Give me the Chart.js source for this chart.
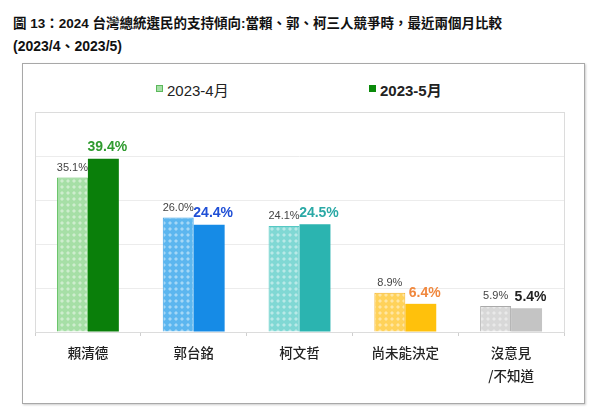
<!DOCTYPE html>
<html><head><meta charset="utf-8">
<script src="https://cdn.jsdelivr.net/npm/chart.js@4/dist/chart.umd.min.js"></script>
<style>
body{margin:0;width:600px;height:420px;background:#fff;position:relative;overflow:hidden;font-family:"Liberation Sans","Noto Sans CJK TC",sans-serif;}
.t{position:absolute;left:13px;font-weight:bold;font-size:13.5px;color:#111;white-space:nowrap;}
#box{position:absolute;left:22px;top:63px;width:561px;height:339px;border:1px solid #a8a8a8;box-shadow:1px 1px 2px #ccc;}
#c{position:absolute;left:23px;top:64px;}
.lg{position:absolute;top:79px;font-size:15px;color:#222;white-space:nowrap;}
.lg i{display:inline-block;width:7px;height:7px;margin-right:4px;vertical-align:4px;box-sizing:border-box;}
</style></head><body>
<div class="t" style="top:12px">圖 13：2024 台灣總統選民的支持傾向:當賴、郭、柯三人競爭時，最近兩個月比較</div>
<div class="t" style="top:35px;font-size:14px">(2023/4、2023/5)</div>
<div id="box"></div>
<div id="lg1" class="lg" style="left:156px"></div>
<div id="lg2" class="lg" style="left:369px;font-weight:bold"></div>
<canvas id="c" width="560" height="338" style="width:560px;height:338px"></canvas>
<script>
const categories = ['賴清德','郭台銘','柯文哲','尚未能決定',['沒意見','/不知道']];
const seriesLabels = ['2023-4月','2023-5月'];
const apr2023 = [35.1, 26.0, 24.1, 8.9, 5.9];
const may2023 = [39.4, 24.4, 24.5, 6.4, 5.4];

const aprBase = ['#a6dfa6','#5cb6ef','#80d8d4','#ffd25a','#d8d8d8'];
const aprBorder = ['#62c062','#3ba2e6','#55c8c4','#f4b42a','#aaaaaa'];
const mayColor = ['#0a7f0a','#168be6','#2bb4b0','#ffc10c','#c4c4c4'];
const mayLabelColor = ['#2f9b2f','#1f4fd6','#2aa9a6','#f0883e','#222222'];

function makePattern(base){
  const p=document.createElement('canvas');p.width=6;p.height=6;
  const g=p.getContext('2d');
  g.fillStyle=base;g.fillRect(0,0,6,6);
  g.fillStyle='rgba(255,255,255,0.45)';
  g.beginPath();g.moveTo(3,1);g.lineTo(5,3);g.lineTo(3,5);g.lineTo(1,3);g.closePath();g.fill();
  return document.getElementById('c').getContext('2d').createPattern(p,'repeat');
}

document.getElementById('lg1').innerHTML='<i style="background:#a6e0a6;border:1px solid #5cb85c"></i>'+seriesLabels[0];
document.getElementById('lg2').innerHTML='<i style="background:#0a8a0a"></i>'+seriesLabels[1];

const labelPlugin={
  id:'vals',
  afterDatasetsDraw(chart){
    const ctx=chart.ctx;
    ctx.save();ctx.textAlign='center';ctx.textBaseline='middle';
    chart.getDatasetMeta(0).data.forEach((b,i)=>{
      ctx.font='11px "Liberation Sans","DejaVu Sans",sans-serif';
      ctx.fillStyle='#444';
      ctx.fillText(apr2023[i].toFixed(1)+'%',b.x,b.y-10);
    });
    chart.getDatasetMeta(1).data.forEach((b,i)=>{
      ctx.font='bold 14px "Liberation Sans","DejaVu Sans",sans-serif';
      ctx.fillStyle=mayLabelColor[i];
      ctx.fillText(may2023[i].toFixed(1)+'%',b.x+4,b.y-11);
    });
    const a=chart.chartArea;
    ctx.strokeStyle='#dcdcdc';ctx.lineWidth=1;
    ctx.strokeRect(Math.round(a.left)+0.5,Math.round(a.top)+0.5,Math.round(a.right-a.left),Math.round(a.bottom-a.top));
    ctx.restore();
  }
};

new Chart(document.getElementById('c'),{
  type:'bar',
  data:{labels:categories,datasets:[
    {label:seriesLabels[0],data:apr2023,backgroundColor:aprBase.map(makePattern),borderColor:aprBorder,borderWidth:1,borderSkipped:'bottom'},
    {label:seriesLabels[1],data:may2023,backgroundColor:mayColor,borderWidth:0}
  ]},
  options:{
    responsive:false,animation:false,devicePixelRatio:1,
    layout:{padding:{left:12,right:19,top:48,bottom:0}},
    datasets:{bar:{barPercentage:1,categoryPercentage:0.585}},
    plugins:{legend:{display:false},tooltip:{enabled:false}},
    scales:{
      x:{grid:{display:true,drawOnChartArea:false,offset:true,tickLength:4,color:'#cfcfcf'},
         border:{color:'#cfcfcf'},
         ticks:{padding:6,color:'#222',font:{family:'"Noto Sans CJK TC","Liberation Sans",sans-serif',size:13.5,weight:'500',lineHeight:1.65}},
         afterFit(s){s.height=70;}},
      y:{min:0,max:50,ticks:{display:false,stepSize:10},grid:{color:'#ececec',drawTicks:false},border:{display:false},
         afterFit(s){s.width=0;}}
    }
  },
  plugins:[labelPlugin]
});
</script>
</body></html>
